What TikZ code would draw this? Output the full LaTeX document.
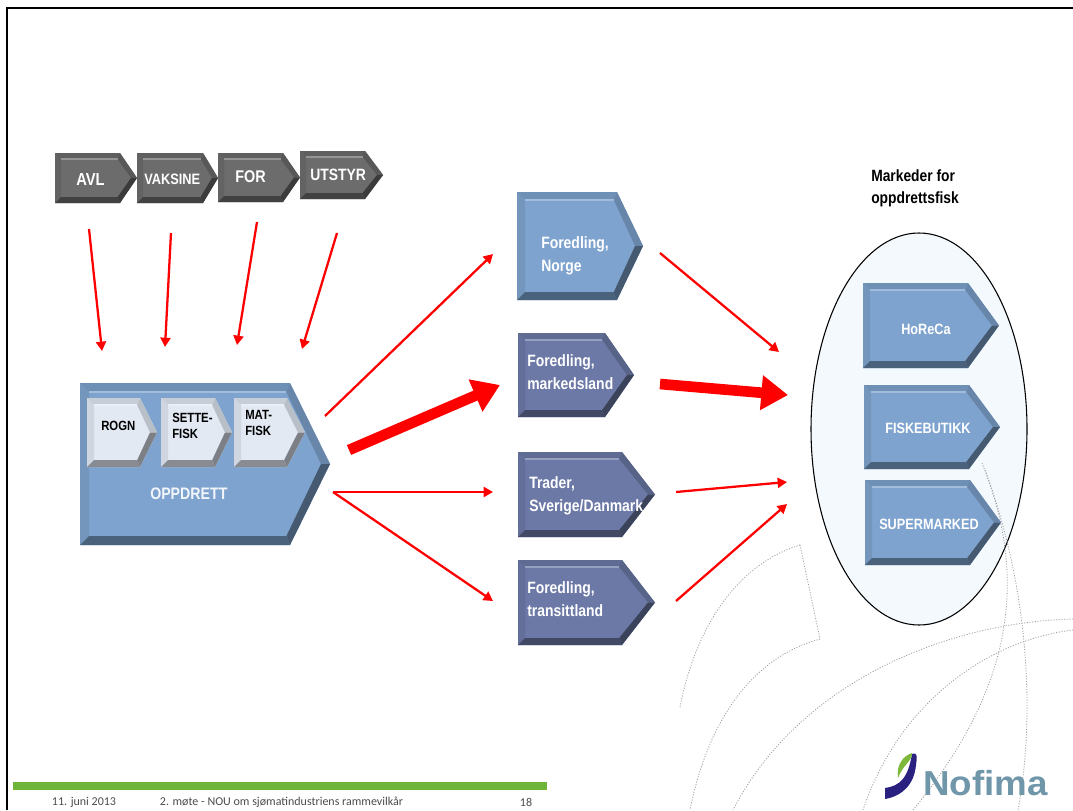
\documentclass[tikz,border=0pt]{standalone}
\usepackage{fontspec}
\usetikzlibrary{shapes.geometric,arrows.meta}
\setmainfont[FakeStretch=0.85]{Liberation Sans}
\newfontfamily\footfont{Carlito}
\newfontfamily\logofont[FakeStretch=1.06]{Liberation Sans}
\definecolor{greybox}{HTML}{6C6C6C}
\definecolor{bluebox}{HTML}{7EA3CE}
\definecolor{slatebox}{HTML}{6C79A6}
\definecolor{silverbox}{HTML}{E2E9F3}
\definecolor{nofimablue}{HTML}{7096AA}
\definecolor{nofimanavy}{HTML}{2A2080}
\definecolor{nofimagreen}{HTML}{7DB83A}
\definecolor{footgreen}{HTML}{6FB43A}
\definecolor{marketfill}{HTML}{F3F9FD}
\tikzset{
  boxtext/.style={text=white,align=left,inner sep=0pt,anchor=west},
  darktext/.style={font=\bfseries\fontsize{10}{11.5}\selectfont,text=black,align=left,inner sep=0pt,anchor=west},
  midtext/.style={boxtext,font=\bfseries\fontsize{12.3}{17.5}\selectfont},
  righttext/.style={boxtext,font=\bfseries\fontsize{11.2}{13}\selectfont},
  foottext/.style={font=\footfont\fontsize{9}{10}\selectfont,text=black!70,inner sep=0pt},
  thinarrow/.style={draw=red,line width=1.7pt,-{Triangle[length=7pt,width=7.5pt]}},
  thickarrow/.style={draw=red,line width=8pt,-{Triangle[length=20pt,width=25pt]}},
  dotline/.style={draw=black!38,dash pattern=on 0.8pt off 1.2pt,line width=0.6pt}
}
% name, left, top, body end, tip, bottom, colour, bevel
\newcommand{\chevronbox}[8]{
  \coordinate (#1-a) at (#2,#3);
  \coordinate (#1-b) at (#4,#3);
  \coordinate (#1-t) at (#5,{(#3+#6)/2});
  \coordinate (#1-c) at (#4,#6);
  \coordinate (#1-d) at (#2,#6);
  \coordinate (#1-ia) at (#2+#8,#3+#8);
  \coordinate (#1-ib) at (#4-#8*0.4,#3+#8);
  \coordinate (#1-it) at (#5-#8,{(#3+#6)/2});
  \coordinate (#1-ic) at (#4-#8*0.4,#6-#8);
  \coordinate (#1-id) at (#2+#8,#6-#8);
  \fill[#7] (#1-a) -- (#1-b) -- (#1-t) -- (#1-c) -- (#1-d) -- cycle;
  \fill[#7!88!black] (#1-a) -- (#1-b) -- (#1-ib) -- (#1-ia) -- cycle;
  \fill[#7!92!black] (#1-a) -- (#1-ia) -- (#1-id) -- (#1-d) -- cycle;
  \fill[#7!60!black] (#1-d) -- (#1-id) -- (#1-ic) -- (#1-c) -- cycle;
  \fill[#7!82!black] (#1-b) -- (#1-t) -- (#1-it) -- (#1-ib) -- cycle;
  \fill[#7!55!black] (#1-t) -- (#1-c) -- (#1-ic) -- (#1-it) -- cycle;
  \draw[#7!72!white,line width=1.5pt] (#1-ia) -- (#1-ib);
}
\begin{document}
\begin{tikzpicture}[x=0.75pt,y=-0.75pt]
\useasboundingbox (0,0) rectangle (1073,810);
\fill[white] (0,0) rectangle (1073,810);
\draw[line width=1.5pt] (7,810) -- (7,8) -- (1073,8);
% market
\node[draw,line width=0.8pt,fill=marketfill,ellipse,minimum width=162pt,minimum height=294pt,inner sep=0pt] (market) at (919,429) {};
\node[darktext,font=\bfseries\fontsize{12.2}{16.5}\selectfont] (markettitle) at (871,188) {Markeder for\\oppdrettsfisk};
% dotted background
\draw[dotline] (800,545) .. controls (735,565) and (695,630) .. (680,707);
\draw[dotline] (800,545) -- (820,639);
\draw[dotline] (820,639) .. controls (760,655) and (710,710) .. (690,810);
\draw[dotline] (1073,619) .. controls (950,622) and (800,680) .. (733,810);
\draw[dotline] (1073,630) .. controls (990,640) and (900,700) .. (863,810);
\draw[dotline] (982,463) .. controls (1025,570) and (1020,680) .. (913,810);
\draw[dotline] (985,470) .. controls (1030,590) and (1035,720) .. (1018,810);
% top row
\chevronbox{avl}{55}{153}{120}{137}{203}{greybox}{6}
\chevronbox{vaksine}{137}{153}{203}{218}{203}{greybox}{6}
\chevronbox{for}{218}{153}{283}{300}{202}{greybox}{6}
\chevronbox{utstyr}{300}{151}{365}{383}{199}{greybox}{6}
\node[boxtext,font=\bfseries\fontsize{13}{13}\selectfont] (avltext) at (76,180) {AVL};
\node[boxtext,font=\bfseries\fontsize{11.3}{13}\selectfont] (vaksinetext) at (144,179) {VAKSINE};
\node[boxtext,font=\bfseries\fontsize{12.7}{13}\selectfont] (fortext) at (235,177) {FOR};
\node[boxtext,font=\bfseries\fontsize{12.3}{13}\selectfont] (utstyrtext) at (310,175) {UTSTYR};
% oppdrett
\chevronbox{opp}{80}{383}{290}{330}{545}{bluebox}{9}
\chevronbox{rogn}{87}{398}{140}{157}{467}{silverbox}{7}
\chevronbox{sette}{161}{398}{215}{232}{467}{silverbox}{7}
\chevronbox{mat}{234}{398}{287}{305}{467}{silverbox}{7}
\node[darktext] (rogntext) at (101,426) {ROGN};
\node[darktext] (settetext) at (172,426) {SETTE-\\FISK};
\node[darktext] (mattext) at (245,423) {MAT-\\FISK};
\node[boxtext,text=white!90!bluebox,font=\bfseries\fontsize{12.5}{13}\selectfont] (opptext) at (150,494) {OPPDRETT};
% middle
\chevronbox{norge}{517}{192}{617}{643}{300}{bluebox}{8}
\chevronbox{marked}{518}{333}{605}{634}{417}{slatebox}{7}
\chevronbox{trader}{518}{452}{622}{655}{537}{slatebox}{7}
\chevronbox{transitt}{518}{560}{622}{655}{645}{slatebox}{7}
\node[midtext] (norgetext) at (541,256) {Foredling,\\Norge};
\node[midtext] (markedtext) at (527,372) {Foredling,\\markedsland};
\node[midtext] (tradertext) at (529,496) {Trader,\\Sverige/Danmark};
\node[midtext] (transitttext) at (527,599) {Foredling,\\transittland};
% right
\chevronbox{horeca}{863}{283}{968}{999}{368}{bluebox}{7}
\chevronbox{butikk}{864}{385}{969}{1000}{469}{bluebox}{7}
\chevronbox{super}{865}{480}{970}{1001}{565}{bluebox}{7}
\node[righttext] (horecatext) at (901,329) {HoReCa};
\node[righttext] (butikktext) at (885,428) {FISKEBUTIKK};
\node[righttext] (supertext) at (879,524) {SUPERMARKED};
% arrows
\coordinate (in1a) at (89,229);  \coordinate (in1b) at (102,351);
\coordinate (in2a) at (171,233); \coordinate (in2b) at (165,347);
\coordinate (in3a) at (257,222); \coordinate (in3b) at (237,345);
\coordinate (in4a) at (337,233); \coordinate (in4b) at (302,349);
\foreach \i in {1,2,3,4} \draw[thinarrow] (in\i a) -- (in\i b);
\coordinate (outa) at (325,416); \coordinate (outb) at (493,254);
\coordinate (outc) at (349,450); \coordinate (outd) at (500,385);
\coordinate (oute) at (333,492); \coordinate (outf) at (493,492);
\coordinate (outg) at (493,601);
\draw[thinarrow] (outa) -- (outb);
\draw[thickarrow] (outc) -- (outd);
\draw[thinarrow] (oute) -- (outf);
\draw[thinarrow] (oute) -- (outg);
\coordinate (mka) at (660,253); \coordinate (mkb) at (779,352);
\coordinate (mkc) at (660,384); \coordinate (mkd) at (788,395);
\coordinate (mke) at (676,492); \coordinate (mkf) at (787,482);
\coordinate (mkg) at (676,601); \coordinate (mkh) at (787,504);
\draw[thinarrow] (mka) -- (mkb);
\draw[thickarrow] (mkc) -- (mkd);
\draw[thinarrow] (mke) -- (mkf);
\draw[thinarrow] (mkg) -- (mkh);
% footer
\fill[footgreen] (13,782) rectangle (547,790);
\node[foottext] (footdate) at (84,802) {11. juni 2013};
\node[foottext] (foottitle) at (281.5,802) {2. møte - NOU om sjømatindustriens rammevilkår};
\node[foottext] (footnum) at (526,802) {18};
% logo
\fill[nofimanavy] (885,788) .. controls (900,786) and (908,778) .. (912,754) .. controls (918,752) and (917,757) .. (916,765) .. controls (914,785) and (902,796) .. (885,799) -- cycle;
\fill[nofimagreen] (898,778) .. controls (896,765) and (903,756) .. (912,753) .. controls (913,760) and (902,766) .. (898,778) -- cycle;
\node[font=\logofont\bfseries\fontsize{26}{26}\selectfont,text=nofimablue,inner sep=0pt,anchor=west] (nofima) at (923,783) {Nofima};
\end{tikzpicture}
\end{document}
